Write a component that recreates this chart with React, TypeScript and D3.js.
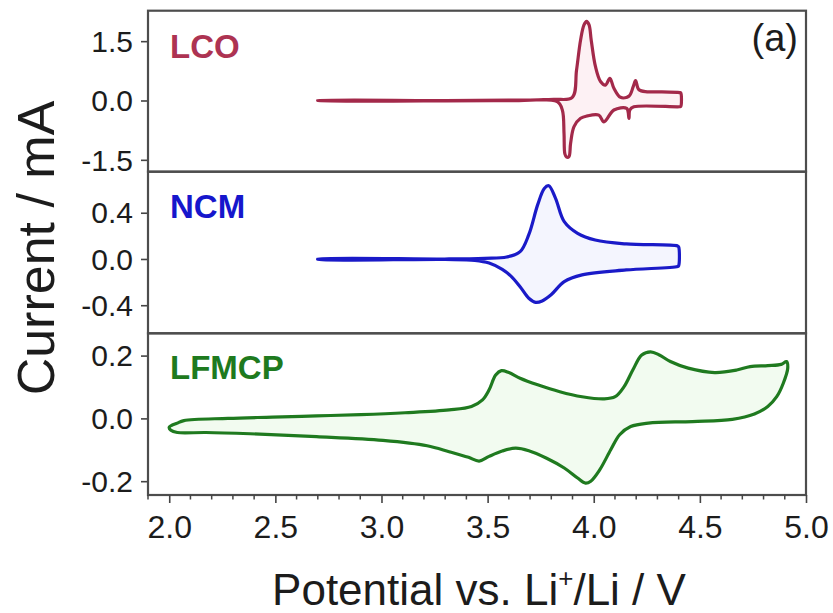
import React, { useEffect, useRef } from 'react';
import * as d3 from 'd3';

type Pt = [number, number];

// ---------- data ----------
const xDomain: [number, number] = [1.9, 5.0];
const xMajorTicks = [2.0, 2.5, 3.0, 3.5, 4.0, 4.5, 5.0];
const xTickLabels = ['2.0', '2.5', '3.0', '3.5', '4.0', '4.5', '5.0'];

const lcoTicks = [1.5, 0, -1.5];
const lcoTickLabels = ['1.5', '0.0', '-1.5'];
const lcoDomain: [number, number] = [-1.8, 2.27];
const lcoAnodic: Pt[] = [
  [2.7, 0.0], [3.3, 0.0], [3.6, 0.01], [3.812, 0.03], [3.899, 0.08], [3.919, 0.77],
  [3.938, 1.53], [3.954, 1.91], [3.966, 2.0], [3.978, 1.91], [3.988, 1.53], [4.008, 0.86],
  [4.032, 0.48], [4.055, 0.39], [4.076, 0.56], [4.095, 0.31], [4.126, 0.08], [4.166, 0.11],
  [4.186, 0.35], [4.197, 0.5], [4.213, 0.27], [4.252, 0.22], [4.315, 0.22], [4.405, 0.2],
  [4.41, 0.19],
];
const lcoCathodic: Pt[] = [
  [4.41, -0.147], [4.405, -0.157], [4.189, -0.16], [4.17, -0.24], [4.166, -0.45], [4.155, -0.2],
  [4.095, -0.24], [4.048, -0.54], [4.024, -0.37], [3.969, -0.39], [3.938, -0.45], [3.907, -0.66],
  [3.891, -1.08], [3.883, -1.42], [3.872, -1.43], [3.864, -1.35], [3.86, -0.83], [3.852, -0.24],
  [3.828, -0.03], [3.6, -0.005], [2.7, -0.003],
];

const ncmTicks = [0.4, 0, -0.4];
const ncmTickLabels = ['0.4', '0.0', '-0.4'];
const ncmDomain: [number, number] = [-0.643, 0.755];
const ncmAnodic: Pt[] = [
  [2.7, 0.0], [3.319, 0.0], [3.486, 0.006], [3.59, 0.017], [3.653, 0.063], [3.694, 0.21],
  [3.736, 0.47], [3.767, 0.61], [3.788, 0.634], [3.82, 0.525], [3.861, 0.323], [3.924, 0.222],
  [4.007, 0.164], [4.153, 0.13], [4.395, 0.113], [4.4, 0.105],
];
const ncmCathodic: Pt[] = [
  [4.4, -0.058], [4.395, -0.065], [4.153, -0.095], [3.945, -0.138], [3.861, -0.196], [3.799, -0.31],
  [3.757, -0.363], [3.726, -0.375], [3.694, -0.34], [3.653, -0.24], [3.611, -0.15], [3.569, -0.09],
  [3.507, -0.035], [3.44, -0.012], [3.3, -0.004], [2.7, -0.003],
];

const lfmcpTicks = [0.2, 0, -0.2];
const lfmcpTickLabels = ['0.2', '0.0', '-0.2'];
const lfmcpDomain: [number, number] = [-0.244, 0.271];
const lfmcpAnodic: Pt[] = [
  [2.0, -0.028], [2.038, -0.015], [2.069, -0.007], [2.277, 0.0], [2.486, 0.004], [2.694, 0.008],
  [2.902, 0.012], [3.111, 0.018], [3.319, 0.027], [3.424, 0.038], [3.476, 0.059], [3.507, 0.091],
  [3.538, 0.138], [3.565, 0.152], [3.6, 0.146], [3.653, 0.128], [3.736, 0.107], [3.84, 0.085],
  [3.945, 0.069], [4.049, 0.062], [4.101, 0.069], [4.143, 0.101], [4.184, 0.154], [4.226, 0.202],
  [4.268, 0.212], [4.309, 0.202], [4.361, 0.181], [4.445, 0.16], [4.57, 0.146], [4.674, 0.154],
  [4.737, 0.165], [4.82, 0.168], [4.883, 0.172], [4.908, 0.181],
];
const lfmcpCathodic: Pt[] = [
  [4.914, 0.16], [4.893, 0.112], [4.862, 0.069], [4.82, 0.038], [4.757, 0.014], [4.653, -0.003],
  [4.466, -0.01], [4.257, -0.015], [4.174, -0.026], [4.122, -0.052], [4.08, -0.1], [4.028, -0.164],
  [3.986, -0.2], [3.961, -0.206], [3.924, -0.19], [3.861, -0.158], [3.778, -0.127], [3.694, -0.103],
  [3.632, -0.095], [3.569, -0.104], [3.507, -0.121], [3.46, -0.136], [3.41, -0.124], [3.319, -0.106],
  [3.215, -0.087], [3.007, -0.07], [2.694, -0.058], [2.381, -0.049], [2.173, -0.045], [2.038, -0.045],
  [2.008, -0.038],
];

// ---------- layout ----------
const W = 833;
const H = 613;
const LEFT = 148;
const RIGHT = 806;
const FONT = '"Liberation Sans", Arial, Helvetica, sans-serif';

const panels = [
  { label: 'LCO', color: '#a3294a', labelColor: '#ad3352', fill: '#fdf1f4', top: 10.7, bottom: 171.7,
    domain: lcoDomain, ticks: lcoTicks, tickLabels: lcoTickLabels, anodic: lcoAnodic, cathodic: lcoCathodic, labelY: 58 },
  { label: 'NCM', color: '#1a1ac8', labelColor: '#1616cc', fill: '#f4f5fe', top: 171.7, bottom: 333.3,
    domain: ncmDomain, ticks: ncmTicks, tickLabels: ncmTickLabels, anodic: ncmAnodic, cathodic: ncmCathodic, labelY: 218 },
  { label: 'LFMCP', color: '#1f7a1f', labelColor: '#1e7a1e', fill: '#f2fbf0', top: 333.3, bottom: 495,
    domain: lfmcpDomain, ticks: lfmcpTicks, tickLabels: lfmcpTickLabels, anodic: lfmcpAnodic, cathodic: lfmcpCathodic, labelY: 379 },
];

export default function App() {
  const ref = useRef<SVGSVGElement | null>(null);

  useEffect(() => {
    const svg = d3.select(ref.current);
    svg.selectAll('*').remove();

    const x = d3.scaleLinear().domain(xDomain).range([LEFT, RIGHT]);

    panels.forEach((p) => {
      const y = d3.scaleLinear().domain(p.domain).range([p.bottom, p.top]);
      const g = svg.append('g');
      const loop = [...p.anodic, ...p.cathodic];
      const line = d3
        .line<Pt>()
        .x((d) => x(d[0]))
        .y((d) => y(d[1]))
        .curve(d3.curveCatmullRomClosed.alpha(0.5));
      g.append('path').attr('d', line(loop)).attr('fill', p.fill).attr('stroke', 'none');
      g.append('path')
        .attr('d', line(loop))
        .attr('fill', 'none')
        .attr('stroke', p.color)
        .attr('stroke-width', 3.2)
        .attr('stroke-linejoin', 'round');

      // y axis
      const ax = d3
        .axisLeft(y)
        .tickValues(p.ticks)
        .tickFormat((_d, k) => p.tickLabels[k])
        .tickSizeInner(7)
        .tickSizeOuter(0)
        .tickPadding(8);
      const ag = svg.append('g').attr('transform', `translate(${LEFT},0)`).call(ax);
      ag.select('.domain').remove();
      ag.selectAll('line').attr('stroke', '#444').attr('stroke-width', 1.6);
      ag.selectAll('text')
        .attr('font-family', FONT)
        .attr('font-size', 30)
        .attr('fill', '#1c1c1c')
        .attr('dy', '0.34em');

      // frame
      svg
        .append('rect')
        .attr('x', LEFT)
        .attr('y', p.top)
        .attr('width', RIGHT - LEFT)
        .attr('height', p.bottom - p.top)
        .attr('fill', 'none')
        .attr('stroke', '#4d4d4d')
        .attr('stroke-width', 2.2);

      svg
        .append('text')
        .attr('x', 170)
        .attr('y', p.labelY)
        .attr('font-family', FONT)
        .attr('font-weight', 'bold')
        .attr('font-size', 33)
        .attr('fill', p.labelColor)
        .text(p.label);
    });

    // x axis
    const bottom = panels[2].bottom;
    const minor = d3.range(19, 51).map((v) => v / 10).filter((v) => Math.abs(v * 2 - Math.round(v * 2)) > 1e-6);
    const mg = svg.append('g').attr('transform', `translate(0,${bottom})`);
    mg.selectAll('line.minor')
      .data(minor)
      .enter()
      .append('line')
      .attr('x1', (d) => x(d))
      .attr('x2', (d) => x(d))
      .attr('y1', 0)
      .attr('y2', 4.5)
      .attr('stroke', '#444')
      .attr('stroke-width', 1.5);
    const xa = d3
      .axisBottom(x)
      .tickValues(xMajorTicks)
      .tickFormat((_d, k) => xTickLabels[k])
      .tickSizeInner(8)
      .tickSizeOuter(0)
      .tickPadding(12);
    const xg = svg.append('g').attr('transform', `translate(0,${bottom})`).call(xa);
    xg.select('.domain').remove();
    xg.selectAll('line').attr('stroke', '#444').attr('stroke-width', 1.6);
    xg.selectAll('text')
      .attr('font-family', FONT)
      .attr('font-size', 32)
      .attr('fill', '#1c1c1c')
      .attr('dy', null)
      .attr('y', 43);

    // (a)
    svg
      .append('text')
      .attr('x', 798)
      .attr('y', 51)
      .attr('text-anchor', 'end')
      .attr('font-family', FONT)
      .attr('font-size', 38)
      .attr('fill', '#1c1c1c')
      .text('(a)');

    // axis titles
    const xt = svg
      .append('text')
      .attr('x', (LEFT + RIGHT) / 2 + 2)
      .attr('y', 605)
      .attr('text-anchor', 'middle')
      .attr('font-family', FONT)
      .attr('font-size', 44)
      .attr('fill', '#1c1c1c');
    xt.append('tspan').text('Potential vs. Li');
    xt.append('tspan').attr('font-size', 26).attr('dy', -18).text('+');
    xt.append('tspan').attr('dy', 18).text('/Li / V');

    svg
      .append('text')
      .attr('transform', `translate(54,248) rotate(-90)`)
      .attr('text-anchor', 'middle')
      .attr('font-family', FONT)
      .attr('font-size', 52)
      .attr('fill', '#1c1c1c')
      .text('Current / mA');
  }, []);

  return (
    <svg
      ref={ref}
      width={W}
      height={H}
      viewBox={`0 0 ${W} ${H}`}
      style={{ position: 'absolute', left: 0, top: 0, background: '#fff' }}
    />
  );
}
